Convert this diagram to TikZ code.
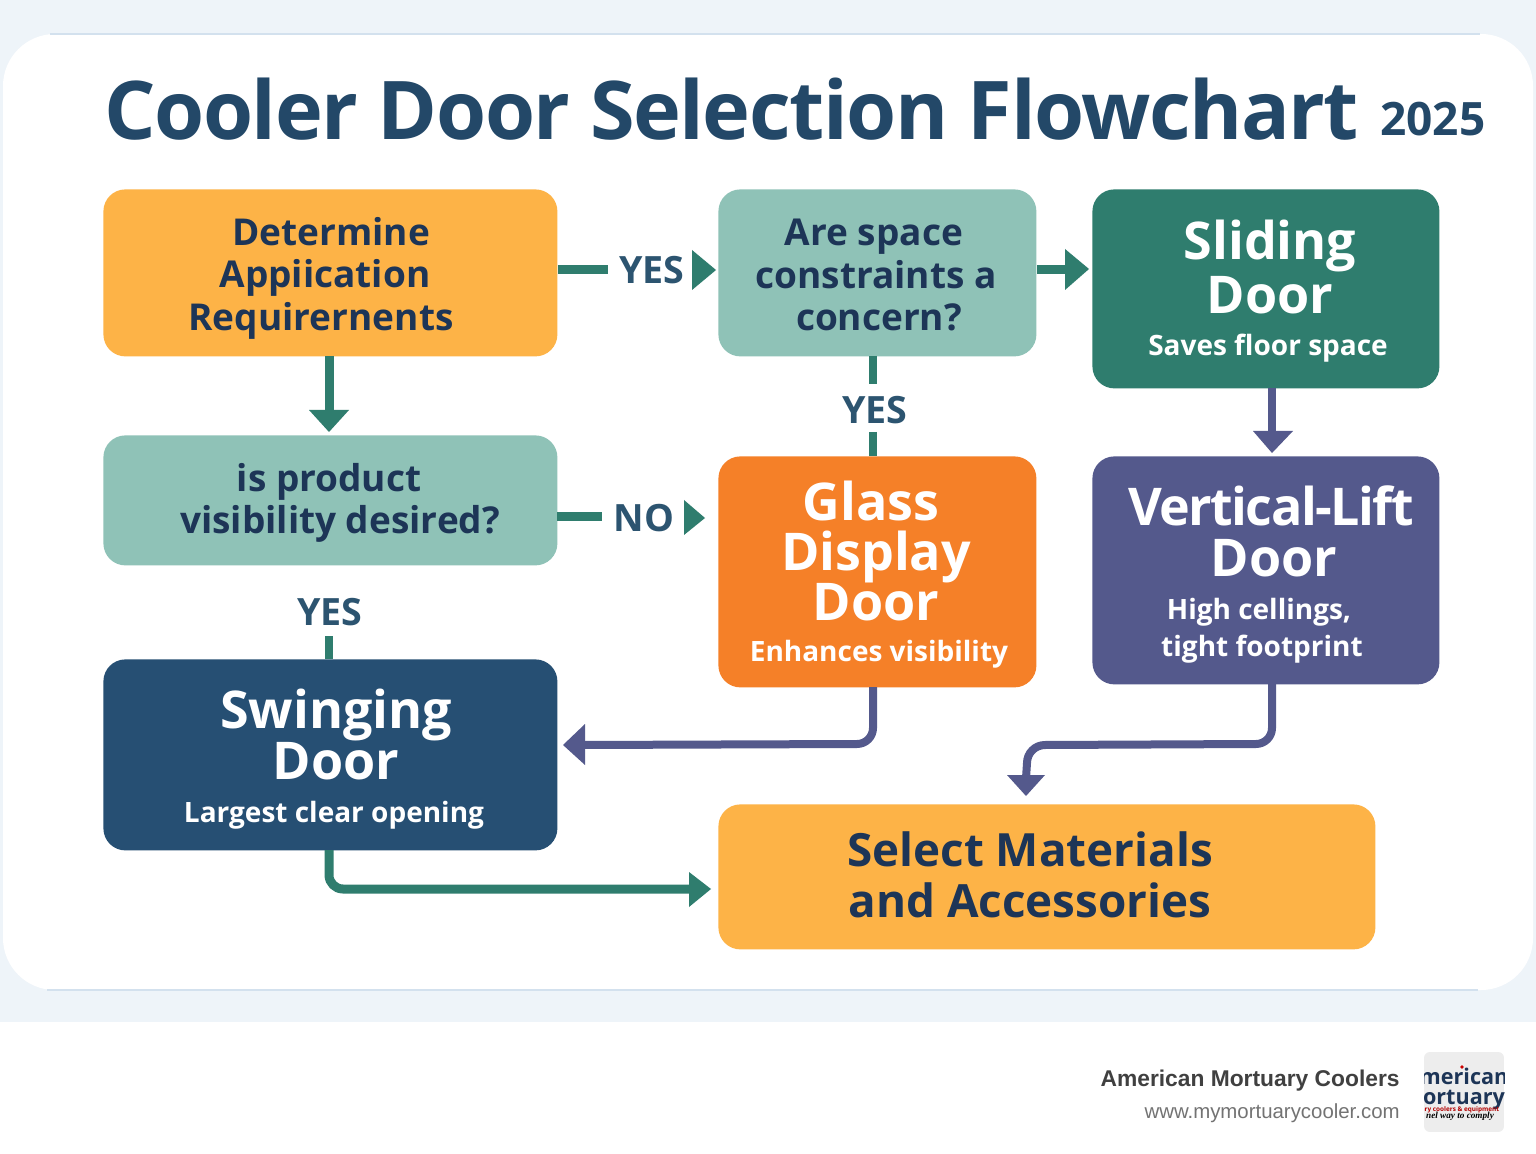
\documentclass[tikz,border=0pt]{standalone}
\usepackage{fontspec}
\setmainfont{Open Sans}
\newfontfamily\arialish{Liberation Sans}
\newfontfamily\logofont{Liberation Serif}
\definecolor{teal}{HTML}{2F7D6E}
\definecolor{mint}{HTML}{8FC2B7}
\definecolor{amber}{HTML}{FDB347}
\definecolor{orng}{HTML}{F58028}
\definecolor{deepblue}{HTML}{264F73}
\definecolor{titlec}{HTML}{234868}
\definecolor{purp}{HTML}{54598C}
\definecolor{labelc}{HTML}{2C5470}
\definecolor{inkc}{HTML}{1D3557}
\definecolor{pagebg}{HTML}{EEF4F9}
\definecolor{panelline}{HTML}{D3E1EE}
\newcommand{\fs}[2]{\fontsize{#1}{#2}\selectfont}
\newcommand{\sh}[1]{\hspace*{#1pt}}
\newcommand{\subt}[1]{{\fontsize{14}{18}\selectfont\bfseries #1}}
\tikzset{
  x=0.5pt,y=-0.5pt,
  boxbase/.style={rounded corners=11pt,inner sep=0pt,anchor=north west},
  ltext/.style={inner sep=0pt,align=center,text=inkc,font=\fs{18.5}{21.2}\bfseries},
  dtext/.style={inner sep=0pt,align=center,text=white,font=\fs{26}{25.5}\bfseries},
  tealink/.style={line width=4.5pt,draw=teal},
  purplink/.style={draw=purp,line width=4pt},
  tealtip/.style={fill=teal,draw=none},
  purptip/.style={fill=purp,draw=none},
  yesno/.style={text=labelc,font=\fs{18.8}{20}\bfseries,inner sep=0pt},
}
\newcommand{\sizedbox}[6]{\node[boxbase,fill=#1,minimum width=#4*0.5pt,minimum height=#5*0.5pt] (#6) at (#2,#3) {}}
\begin{document}
\begin{tikzpicture}
\useasboundingbox (0,0) rectangle (1536,1154);
\fill[white] (0,0) rectangle (1536,1154);
\fill[pagebg] (0,0) rectangle (1536,1022);
\fill[white,rounded corners=26pt] (3,34) rectangle (1533,990);
\draw[panelline,line width=0.8pt] (50,34) -- (1480,34);
\draw[panelline,line width=0.8pt] (47,990) -- (1478,990);
\node[anchor=base west,inner sep=0pt,text=titlec,font=\fs{40.5}{41}\bfseries\addfontfeature{LetterSpace=-1.8}] (title) at (104,140) {Cooler Door Selection Flowchart};
\node[anchor=base west,inner sep=0pt,text=titlec,font=\fs{23}{23}\bfseries] (year) at (1380,136) {2025};

\sizedbox{amber}{103}{189}{454}{167}{determine};
\sizedbox{mint}{718}{189}{318}{167}{space};
\sizedbox{teal}{1092}{189}{347}{199}{sliding};
\sizedbox{mint}{103}{435}{454}{130}{visibility};
\sizedbox{orng}{718}{456}{318}{231}{glass};
\sizedbox{purp}{1092}{456}{347}{228}{vertical};
\sizedbox{deepblue}{103}{659}{454}{191}{swinging};
\sizedbox{amber}{718}{804}{657}{145}{materials};

\node[ltext] (determineT) at (325,278) {Determine\sh{-6}\\Appiication\sh{1}\\Requirernents\sh{4}};
\node[ltext] (spaceT) at (876,275) {Are space\sh{2}\\constraints a\sh{1}\\concern?\sh{-3}};
\node[dtext,font=\fs{26}{27}\bfseries] (slidingT) at (1270,291.5) {Sliding\\Door\\[-6pt]\subt{Saves floor space}\sh{2}};
\node[ltext] (visibilityT) at (335,503) {is product\sh{6}\\visibility desired?\sh{-5}};
\node[dtext,font=\fs{26}{25}\bfseries] (glassT) at (876,575) {Glass\sh{5}\\Display\\Door\\[-4.5pt]\subt{Enhances visibility}\sh{-3}};
\node[dtext] (verticalT) at (1271,574.5) {\addfontfeature{LetterSpace=-3}Vertical-Lift\\\sh{3}Door\\[-4pt]\sh{-12}\subt{High cellings,}\\[-7pt]\subt{tight footprint}\sh{9}};
\node[dtext] (swingingT) at (336,759.5) {Swinging\\Door\\[-4pt]\subt{Largest clear opening}\sh{2}};
\node[ltext,font=\fs{22.9}{25.5}\bfseries] (materialsT) at (1030,875) {Select Materials\\and Accessories};

\node[yesno] (yes1) at (652,270) {YES};
\node[yesno] (yes2) at (875,410) {YES};
\node[yesno] (no1) at (644,518) {NO};
\node[yesno] (yes3) at (330,612) {YES};

\coordinate (t1a) at (692,270);
\draw[tealink] (determine.east |- t1a) -- (608,270);
\fill[tealtip] (692,250) -- (716,270) -- (692,290) -- cycle;
\draw[tealink] (space.east |- t1a) -- (1066,270);
\fill[tealtip] (1065,249) -- (1089,269) -- (1065,290) -- cycle;
\draw[tealink,line width=4pt] (873,356) -- (873,384);
\draw[tealink,line width=4pt] (873,432) -- (873,456);
\draw[tealink] (329,356) -- (329,412);
\fill[tealtip] (309,410) -- (349,410) -- (329,432) -- cycle;
\draw[tealink] (557,517) -- (602,517);
\fill[tealtip] (684,500) -- (705,518) -- (684,535) -- cycle;
\draw[tealink,line width=4pt] (329,636) -- (329,659);
\draw[tealink] (329,850) -- (329,875) arc[start angle=180,end angle=90,radius=14] -- (692,889);
\fill[tealtip] (689,872) -- (711,889) -- (689,907) -- cycle;
\draw[purplink] (873,687) -- (873,728) arc[start angle=0,end angle=90,radius=16] -- (584,745);
\fill[purptip] (585,724) -- (563,745) -- (585,765) -- cycle;
\draw[purplink] (1272,684) -- (1272,728) arc[start angle=0,end angle=90,radius=16] -- (1045,745) arc[start angle=-90,end angle=-180,radius=18] -- (1026,778);
\fill[purptip] (1007,775) -- (1045,775) -- (1026,796) -- cycle;
\fill[purptip] (1253,431) -- (1293,431) -- (1272,453) -- cycle;
\draw[purplink] (1272,388) -- (1272,433);

\node[anchor=base east,inner sep=0pt,text=black!75,font=\fs{11.4}{12}\arialish\bfseries] (brand) at (1400,1086) {American Mortuary Coolers};
\node[anchor=base east,inner sep=0pt,text=black!55,font=\fs{10.2}{12}\arialish] (url) at (1400,1118) {www.mymortuarycooler.com};
\begin{scope}
\path[clip,rounded corners=3pt] (1424,1052) rectangle (1504,1132);
\fill[black!7] (1424,1052) rectangle (1504,1132);
\node[anchor=base,inner sep=0pt,text=inkc,font=\fs{10.8}{10}\bfseries] (l1) at (1464,1084) {merican};
\node[anchor=base,inner sep=0pt,text=inkc,font=\fs{10.8}{10}\bfseries] (l2) at (1464,1104) {ortuary};
\fill[red!80!black] (1462,1067) circle (1.8);
\node[anchor=base,inner sep=0pt,text=red!70!black,font=\fs{3.2}{4}\bfseries] (l3) at (1460,1111) {ary coolers \& equipment};
\node[anchor=base,inner sep=0pt,text=black,font=\fs{4.6}{5}\logofont\itshape\bfseries] (l4) at (1460,1118) {nel way to comply};
\end{scope}
\end{tikzpicture}
\end{document}
